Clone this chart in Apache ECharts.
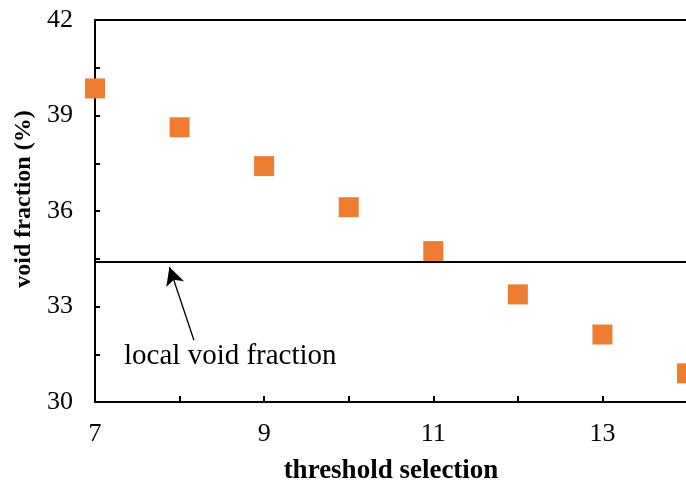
<!DOCTYPE html>
<html>
<head>
<meta charset="utf-8">
<script src="https://cdn.jsdelivr.net/npm/echarts@6/dist/echarts.min.js"></script>
<style>
html,body{margin:0;padding:0;background:#fff;}
#c{width:686px;height:490px;}
</style>
</head>
<body>
<div id="c"></div>
<script>
const thresholds = [7, 8, 9, 10, 11, 12, 13, 14];
const voidFraction = [39.85, 38.63, 37.41, 36.12, 34.74, 33.38, 32.12, 30.90];
const localVoidFraction = 34.4;
const annotationText = 'local void fraction';
const arrowTail = [8.17, 31.94];
const arrowTip = [7.88, 34.24];
const textAt = [8.60, 31.43];
const xLabels = [7, 9, 11, 13];
const yLabels = [30, 33, 36, 39, 42];

const serif = '"Liberation Serif", "Times New Roman", serif';
const chart = echarts.init(document.getElementById('c'), null, {renderer: 'canvas'});
chart.setOption({
  animation: false,
  backgroundColor: '#fff',
  grid: {left: 95, top: 20, right: -1, bottom: 88, containLabel: false, outerBoundsMode: 'none'},
  xAxis: [{
    type: 'value', min: 7, max: 14, interval: 1,
    name: 'threshold selection', nameLocation: 'middle', nameGap: 56,
    nameTextStyle: {fontFamily: serif, fontWeight: 'bold', fontSize: 27, color: '#000'},
    axisLine: {show: true, onZero: false, lineStyle: {color: '#000', width: 2}},
    axisTick: {show: true, inside: true, length: 6, lineStyle: {color: '#000', width: 2}},
    axisLabel: {
      fontFamily: serif, fontSize: 26, color: '#000', margin: 19,
      formatter: v => xLabels.includes(v) ? String(v) : ''
    },
    splitLine: {show: false}
  }, {
    type: 'value', min: 7, max: 14, position: 'top',
    axisLine: {show: true, lineStyle: {color: '#000', width: 2}},
    axisTick: {show: false}, axisLabel: {show: false}, splitLine: {show: false}
  }],
  yAxis: {
    type: 'value', min: 30, max: 42, interval: 1.5,
    name: 'void fraction (%)', nameLocation: 'middle', nameGap: 54, nameRotate: 90,
    nameTextStyle: {fontFamily: serif, fontWeight: 'bold', fontSize: 24, color: '#000', padding: [0, 0, 0, 24]},
    axisLine: {show: true, onZero: false, lineStyle: {color: '#000', width: 2}},
    axisTick: {show: true, inside: true, length: 5, lineStyle: {color: '#000', width: 2}},
    axisLabel: {
      fontFamily: serif, fontSize: 26, color: '#000', margin: 22,
      formatter: v => yLabels.some(y => Math.abs(y - v) < 1e-6) ? String(v) : ''
    },
    splitLine: {show: false}
  },
  series: [{
    type: 'scatter',
    clip: false,
    symbol: 'rect',
    symbolSize: 20,
    itemStyle: {color: '#ED7D31', opacity: 1},
    data: thresholds.map((x, i) => [x, voidFraction[i]]),
    markLine: {
      silent: true,
      animation: false,
      label: {show: false},
      data: [
        [{coord: [7, localVoidFraction], symbol: 'none', lineStyle: {color: '#000', width: 2.2, type: 'solid'}},
         {coord: [14, localVoidFraction], symbol: 'none'}],
        [{coord: arrowTail, symbol: 'none', lineStyle: {color: '#000', width: 1.3, type: 'solid'}},
         {coord: arrowTip, symbol: 'arrow', symbolSize: [14, 18]}]
      ]
    },
    markPoint: {
      silent: true,
      animation: false,
      symbol: 'circle', symbolSize: 0,
      label: {show: true, position: 'inside', formatter: annotationText,
        fontFamily: serif, fontSize: 29, color: '#000'},
      data: [{coord: textAt}]
    }
  }]
});
</script>
</body>
</html>
